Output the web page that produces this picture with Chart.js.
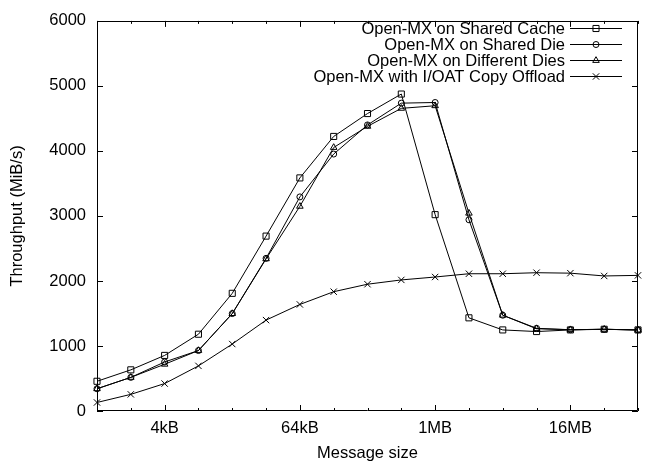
<!DOCTYPE html>
<html>
<head>
<meta charset="utf-8">
<script src="https://cdn.jsdelivr.net/npm/chart.js@4.4.0/dist/chart.umd.min.js"></script>
<style>
  html, body { margin: 0; padding: 0; background: #fff; }
  #wrap { width: 646px; height: 466px; }
</style>
</head>
<body>
<div id="wrap"><canvas id="chart" width="646" height="466"></canvas></div>
<script>
// message sizes, one point per power of two
const sizes = ["1kB", "2kB", "4kB", "8kB", "16kB", "32kB", "64kB", "128kB", "256kB",
  "512kB", "1MB", "2MB", "4MB", "8MB", "16MB", "32MB", "64MB"];
const shownSizes = ["4kB", "64kB", "1MB", "16MB"];

const sharedCache = [457, 633, 855, 1181, 1810, 2690, 3585, 4223, 4575, 4875, 3020, 1433, 1247, 1222, 1247, 1257, 1247];
const sharedDie = [342, 517, 754, 930, 1498, 2348, 3293, 3952, 4400, 4735, 4745, 2941, 1473, 1272, 1250, 1257, 1247];
const differentDies = [342, 517, 719, 930, 1498, 2340, 3148, 4053, 4378, 4655, 4695, 3042, 1473, 1265, 1250, 1257, 1245];
const ioatOffload = [131, 256, 422, 694, 1030, 1398, 1639, 1835, 1950, 2016, 2061, 2111, 2111, 2127, 2120, 2077, 2086];

const yTicks = [0, 1000, 2000, 3000, 4000, 5000, 6000];

const FONT = "'Liberation Sans', Arial, Helvetica, sans-serif";

function series(label, data, style, radius) {
  return {
    label,
    data,
    borderColor: "#000",
    borderWidth: 1,
    backgroundColor: "rgba(0,0,0,0)",
    pointStyle: style,
    pointRadius: radius,
    pointBorderColor: "#000",
    pointBorderWidth: 1,
    pointBackgroundColor: "rgba(0,0,0,0)",
    tension: 0,
    fill: false,
  };
}

// gnuplot-like frame with inward ticks on all four sides, plus the key
const framePlugin = {
  id: "frame",
  afterDatasetsDraw(chart) {
    const { ctx, chartArea: a, scales } = chart;
    const x = scales.x, y = scales.y;
    ctx.save();
    ctx.strokeStyle = "#000";
    ctx.lineWidth = 1;
    ctx.beginPath();
    ctx.rect(Math.round(a.left) + 0.5, Math.round(a.top) + 0.5,
      Math.round(a.right - a.left) - 1, Math.round(a.bottom - a.top) - 1);
    ctx.stroke();

    ctx.beginPath();
    yTicks.forEach((v) => {
      const py = Math.round(y.getPixelForValue(v)) + 0.5;
      ctx.moveTo(a.left, py); ctx.lineTo(a.left + 6, py);
      ctx.moveTo(a.right, py); ctx.lineTo(a.right - 6, py);
    });
    sizes.forEach((s, i) => {
      const px = Math.round(x.getPixelForValue(i)) + 0.5;
      const len = shownSizes.includes(s) ? 6 : 3;
      ctx.moveTo(px, a.bottom); ctx.lineTo(px, a.bottom - len);
      ctx.moveTo(px, a.top); ctx.lineTo(px, a.top + len);
    });
    ctx.stroke();

    // key: right-aligned text, sample line with marker
    ctx.font = "16.5px " + FONT;
    ctx.textAlign = "right";
    ctx.textBaseline = "middle";
    const rowY = [28, 44, 60, 76];
    chart.data.datasets.forEach((ds, i) => {
      const ry = rowY[i];
      ctx.fillStyle = "#000";
      ctx.fillText(ds.label, 565, ry + 1);
      ctx.beginPath();
      ctx.moveTo(570, ry + 0.5); ctx.lineTo(622, ry + 0.5);
      ctx.stroke();
      ctx.fillStyle = "rgba(0,0,0,0)";
      Chart.helpers.drawPoint(ctx, {
        pointStyle: ds.pointStyle, radius: ds.pointRadius, borderWidth: 1, rotation: 0,
      }, 596, ry + 0.5);
    });
    ctx.restore();
  },
};

new Chart(document.getElementById("chart"), {
  type: "line",
  data: {
    labels: sizes,
    datasets: [
      series("Open-MX on Shared Cache", sharedCache, "rect", 4.3),
      series("Open-MX on Shared Die", sharedDie, "circle", 3),
      series("Open-MX on Different Dies", differentDies, "triangle", 3.8),
      series("Open-MX with I/OAT Copy Offload", ioatOffload, "crossRot", 4.5),
    ],
  },
  options: {
    responsive: false,
    animation: false,
    devicePixelRatio: 1,
    layout: { padding: { left: 0, right: 4, top: 13, bottom: 0 } },
    plugins: { legend: { display: false }, tooltip: { enabled: false } },
    scales: {
      x: {
        type: "category",
        offset: false,
        grid: { display: false, drawTicks: false },
        border: { display: false },
        ticks: {
          autoSkip: false,
          maxRotation: 0,
          padding: 8,
          color: "#000",
          font: { family: FONT, size: 16.5 },
          callback: (v, i) => (shownSizes.includes(sizes[i]) ? sizes[i] : ""),
        },
        title: {
          display: true,
          text: "Message size",
          color: "#000",
          font: { family: FONT, size: 16.5 },
          padding: { top: 0, bottom: 3 },
        },
        afterFit: (s) => { s.height = 55; },
      },
      y: {
        min: 0,
        max: 6000,
        grid: { display: false, drawTicks: false },
        border: { display: false },
        ticks: {
          stepSize: 1000,
          padding: 11,
          color: "#000",
          font: { family: FONT, size: 16.5 },
          callback: (v) => String(v),
        },
        title: {
          display: true,
          text: "Throughput (MiB/s)",
          color: "#000",
          font: { family: FONT, size: 16.5 },
          padding: { top: 8, bottom: 0 },
        },
        afterFit: (s) => { s.width = 97; },
      },
    },
  },
  plugins: [framePlugin],
});
</script>
</body>
</html>
